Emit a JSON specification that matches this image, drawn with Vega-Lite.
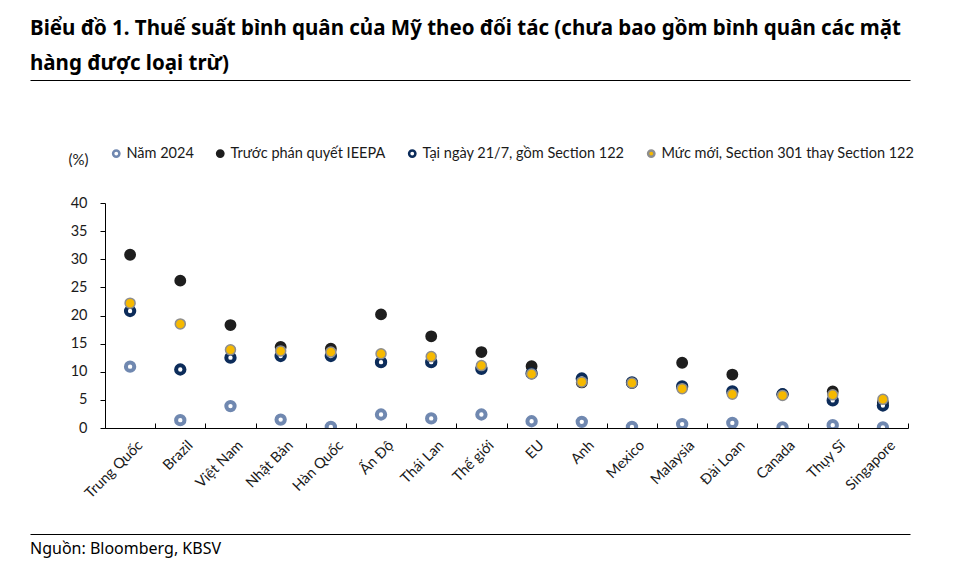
{
  "$schema": "https://vega.github.io/schema/vega-lite/v6.json",
  "background": "white",
  "padding": {"left": 30, "top": 18, "right": 10, "bottom": 8},
  "title": {
    "text": ["Biểu đồ 1. Thuế suất bình quân của Mỹ theo đối tác (chưa bao gồm bình quân các mặt", "hàng được loại trừ)"],
    "anchor": "start",
    "font": "Noto Sans",
    "fontSize": 20.5,
    "fontWeight": "bold",
    "lineHeight": 35,
    "color": "#000000",
    "offset": 6
  },
  "spacing": 33,
  "resolve": {
    "scale": {"fill": "independent", "stroke": "independent"},
    "legend": {"fill": "independent", "stroke": "independent"}
  },
  "config": {
    "view": {"stroke": null},
    "font": "Lato",
    "axis": {
      "domainColor": "#000000",
      "tickColor": "#000000",
      "labelColor": "#1a1a1a",
      "labelFont": "Lato",
      "labelFontSize": 14.5,
      "grid": false
    },
    "legend": {"symbolStrokeWidth": 2.5}
  },
  "vconcat": [
    {
      "width": 880,
      "height": 33,
      "data": {"values": []},
      "mark": {"type": "rule"},
      "encoding": {
        "x": {
          "field": "p",
          "type": "quantitative",
          "scale": {"domain": [0, 1]},
          "axis": {"orient": "top", "domainColor": "#000000", "domainWidth": 1.2, "ticks": false, "labels": false, "grid": false, "title": null}
        }
      }
    },
    {
      "spacing": 0,
      "resolve": {
        "scale": {"fill": "independent", "stroke": "independent"},
        "legend": {"fill": "independent", "stroke": "independent"}
      },
      "hconcat": [
        {
          "width": 38,
          "height": 1,
          "data": {"values": []},
          "mark": {"type": "rule"},
          "encoding": {}
        },
        {
          "width": 803,
          "height": 225,
          "data": {
            "values": [
              {"country": "Trung Quốc", "series": "Năm 2024", "value": 10.9},
              {"country": "Brazil", "series": "Năm 2024", "value": 1.4},
              {"country": "Việt Nam", "series": "Năm 2024", "value": 3.9},
              {"country": "Nhật Bản", "series": "Năm 2024", "value": 1.5},
              {"country": "Hàn Quốc", "series": "Năm 2024", "value": 0.2},
              {"country": "Ấn Độ", "series": "Năm 2024", "value": 2.4},
              {"country": "Thái Lan", "series": "Năm 2024", "value": 1.7},
              {"country": "Thế giới", "series": "Năm 2024", "value": 2.4},
              {"country": "EU", "series": "Năm 2024", "value": 1.2},
              {"country": "Anh", "series": "Năm 2024", "value": 1.1},
              {"country": "Mexico", "series": "Năm 2024", "value": 0.2},
              {"country": "Malaysia", "series": "Năm 2024", "value": 0.7},
              {"country": "Đài Loan", "series": "Năm 2024", "value": 0.9},
              {"country": "Canada", "series": "Năm 2024", "value": 0.1},
              {"country": "Thụy Sĩ", "series": "Năm 2024", "value": 0.5},
              {"country": "Singapore", "series": "Năm 2024", "value": 0.1},

              {"country": "Trung Quốc", "series": "Trước phán quyết IEEPA", "value": 30.8},
              {"country": "Brazil", "series": "Trước phán quyết IEEPA", "value": 26.2},
              {"country": "Việt Nam", "series": "Trước phán quyết IEEPA", "value": 18.3},
              {"country": "Nhật Bản", "series": "Trước phán quyết IEEPA", "value": 14.4},
              {"country": "Hàn Quốc", "series": "Trước phán quyết IEEPA", "value": 14.1},
              {"country": "Ấn Độ", "series": "Trước phán quyết IEEPA", "value": 20.2},
              {"country": "Thái Lan", "series": "Trước phán quyết IEEPA", "value": 16.3},
              {"country": "Thế giới", "series": "Trước phán quyết IEEPA", "value": 13.5},
              {"country": "EU", "series": "Trước phán quyết IEEPA", "value": 11.0},
              {"country": "Anh", "series": "Trước phán quyết IEEPA", "value": 8.1},
              {"country": "Mexico", "series": "Trước phán quyết IEEPA", "value": 8.0},
              {"country": "Malaysia", "series": "Trước phán quyết IEEPA", "value": 11.6},
              {"country": "Đài Loan", "series": "Trước phán quyết IEEPA", "value": 9.5},
              {"country": "Canada", "series": "Trước phán quyết IEEPA", "value": 6.0},
              {"country": "Thụy Sĩ", "series": "Trước phán quyết IEEPA", "value": 6.5},
              {"country": "Singapore", "series": "Trước phán quyết IEEPA", "value": 4.5},

              {"country": "Trung Quốc", "series": "Tại ngày 21/7, gồm Section 122", "value": 20.8},
              {"country": "Brazil", "series": "Tại ngày 21/7, gồm Section 122", "value": 10.4},
              {"country": "Việt Nam", "series": "Tại ngày 21/7, gồm Section 122", "value": 12.5},
              {"country": "Nhật Bản", "series": "Tại ngày 21/7, gồm Section 122", "value": 12.8},
              {"country": "Hàn Quốc", "series": "Tại ngày 21/7, gồm Section 122", "value": 12.8},
              {"country": "Ấn Độ", "series": "Tại ngày 21/7, gồm Section 122", "value": 11.7},
              {"country": "Thái Lan", "series": "Tại ngày 21/7, gồm Section 122", "value": 11.7},
              {"country": "Thế giới", "series": "Tại ngày 21/7, gồm Section 122", "value": 10.5},
              {"country": "EU", "series": "Tại ngày 21/7, gồm Section 122", "value": 9.7},
              {"country": "Anh", "series": "Tại ngày 21/7, gồm Section 122", "value": 8.8},
              {"country": "Mexico", "series": "Tại ngày 21/7, gồm Section 122", "value": 8.1},
              {"country": "Malaysia", "series": "Tại ngày 21/7, gồm Section 122", "value": 7.4},
              {"country": "Đài Loan", "series": "Tại ngày 21/7, gồm Section 122", "value": 6.5},
              {"country": "Canada", "series": "Tại ngày 21/7, gồm Section 122", "value": 6.0},
              {"country": "Thụy Sĩ", "series": "Tại ngày 21/7, gồm Section 122", "value": 4.9},
              {"country": "Singapore", "series": "Tại ngày 21/7, gồm Section 122", "value": 4.0},

              {"country": "Trung Quốc", "series": "Mức mới, Section 301 thay Section 122", "value": 22.2},
              {"country": "Brazil", "series": "Mức mới, Section 301 thay Section 122", "value": 18.5},
              {"country": "Việt Nam", "series": "Mức mới, Section 301 thay Section 122", "value": 13.9},
              {"country": "Nhật Bản", "series": "Mức mới, Section 301 thay Section 122", "value": 13.7},
              {"country": "Hàn Quốc", "series": "Mức mới, Section 301 thay Section 122", "value": 13.5},
              {"country": "Ấn Độ", "series": "Mức mới, Section 301 thay Section 122", "value": 13.2},
              {"country": "Thái Lan", "series": "Mức mới, Section 301 thay Section 122", "value": 12.7},
              {"country": "Thế giới", "series": "Mức mới, Section 301 thay Section 122", "value": 11.1},
              {"country": "EU", "series": "Mức mới, Section 301 thay Section 122", "value": 9.6},
              {"country": "Anh", "series": "Mức mới, Section 301 thay Section 122", "value": 8.2},
              {"country": "Mexico", "series": "Mức mới, Section 301 thay Section 122", "value": 8.0},
              {"country": "Malaysia", "series": "Mức mới, Section 301 thay Section 122", "value": 7.0},
              {"country": "Đài Loan", "series": "Mức mới, Section 301 thay Section 122", "value": 6.0},
              {"country": "Canada", "series": "Mức mới, Section 301 thay Section 122", "value": 5.8},
              {"country": "Thụy Sĩ", "series": "Mức mới, Section 301 thay Section 122", "value": 5.9},
              {"country": "Singapore", "series": "Mức mới, Section 301 thay Section 122", "value": 5.1}
            ]
          },
          "encoding": {
            "x": {
              "field": "country",
              "type": "nominal",
              "sort": ["Trung Quốc", "Brazil", "Việt Nam", "Nhật Bản", "Hàn Quốc", "Ấn Độ", "Thái Lan", "Thế giới", "EU", "Anh", "Mexico", "Malaysia", "Đài Loan", "Canada", "Thụy Sĩ", "Singapore"],
              "scale": {"paddingInner": 0, "paddingOuter": -0.25, "align": 0},
              "axis": {
                "title": null,
                "labelAngle": -45,
                "labelAlign": "right",
                "labelBaseline": "top",
                "labelPadding": 15,
                "labelOffset": 5,
                "tickBand": "extent",
                "tickExtra": false,
                "tickSize": -5,
                "labelOverlap": false,
                "labelLimit": 200
              }
            },
            "y": {
              "field": "value",
              "type": "quantitative",
              "scale": {"domain": [0, 40], "nice": false},
              "axis": {
                "values": [0, 5, 10, 15, 20, 25, 30, 35, 40],
                "tickSize": 5,
                "labelPadding": 13,
                "title": "(%)",
                "titleAngle": 0,
                "titleAlign": "left",
                "titleBaseline": "middle",
                "titleX": -37,
                "titleY": -44,
                "titleFont": "Lato",
                "titleFontSize": 15,
                "titleFontWeight": "normal",
                "titleColor": "#1a1a1a"
              }
            },
            "fill": {
              "field": "series",
              "type": "nominal",
              "scale": {
                "domain": ["Năm 2024", "Trước phán quyết IEEPA", "Tại ngày 21/7, gồm Section 122", "Mức mới, Section 301 thay Section 122"],
                "range": ["#ffffff", "#1e1e1e", "#ffffff", "#f6b900"]
              },
              "legend": {
                "orient": "none",
                "direction": "horizontal",
                "legendX": 4,
                "legendY": -57,
                "title": null,
                "labelFont": "Lato",
                "labelFontSize": 14.5,
                "labelColor": "#1a1a1a",
                "symbolSize": 40,
                "columnPadding": 18,
                "labelOffset": 3,
                "labelLimit": 400,
                "padding": 0
              }
            },
            "stroke": {
              "field": "series",
              "type": "nominal",
              "scale": {
                "domain": ["Năm 2024", "Trước phán quyết IEEPA", "Tại ngày 21/7, gồm Section 122", "Mức mới, Section 301 thay Section 122"],
                "range": ["#7088b0", "#1e1e1e", "#0c2c5a", "#8e8e8e"]
              }
            }
          },
          "layer": [
            {
              "transform": [{"filter": "datum.series === 'Năm 2024'"}],
              "mark": {"type": "point", "opacity": 1, "size": 70, "strokeWidth": 4, "clip": true}
            },
            {
              "transform": [{"filter": "datum.series === 'Trước phán quyết IEEPA'"}],
              "mark": {"type": "point", "opacity": 1, "size": 62, "strokeWidth": 4, "clip": true}
            },
            {
              "transform": [{"filter": "datum.series === 'Tại ngày 21/7, gồm Section 122'"}],
              "mark": {"type": "point", "opacity": 1, "size": 70, "strokeWidth": 4, "clip": true}
            },
            {
              "transform": [{"filter": "datum.series === 'Mức mới, Section 301 thay Section 122'"}],
              "mark": {"type": "point", "opacity": 1, "size": 100, "strokeWidth": 1.5, "clip": true}
            }
          ]
        }
      ]
    },
    {
      "width": 880,
      "height": 0,
      "title": {
        "text": "Nguồn: Bloomberg, KBSV",
        "orient": "bottom",
        "anchor": "start",
        "font": "Noto Sans",
        "fontSize": 16,
        "fontWeight": "normal",
        "color": "#000000",
        "offset": -13
      },
      "data": {"values": []},
      "mark": {"type": "rule"},
      "encoding": {
        "x": {
          "field": "p",
          "type": "quantitative",
          "scale": {"domain": [0, 1]},
          "axis": {"orient": "top", "domainColor": "#000000", "domainWidth": 1.2, "ticks": false, "labels": false, "grid": false, "title": null}
        }
      }
    }
  ]
}
